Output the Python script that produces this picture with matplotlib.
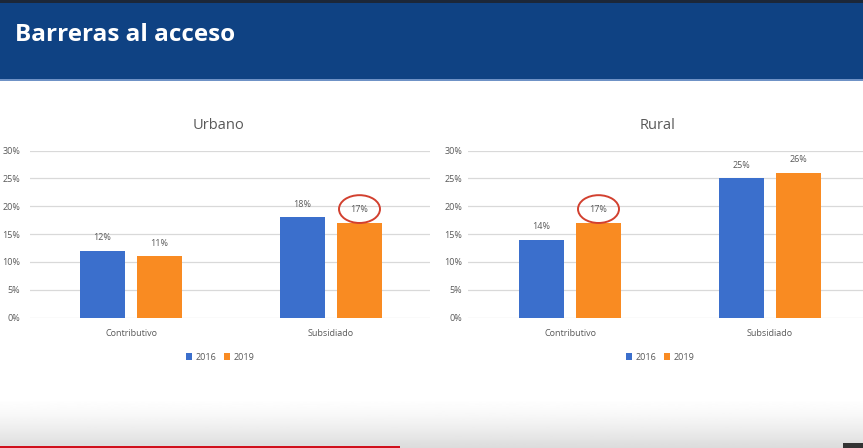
import matplotlib
matplotlib.use('Agg')
import matplotlib.pyplot as plt
import numpy as np
from matplotlib.patches import Ellipse, Rectangle
from matplotlib.ticker import FuncFormatter

plt.rcParams['font.family'] = ['Open Sans', 'DejaVu Sans']

# data
categories = ['Contributivo', 'Subsidiado']
years = ['2016', '2019']
urbano_2016 = [0.12, 0.18]
urbano_2019 = [0.11, 0.17]
rural_2016 = [0.14, 0.25]
rural_2019 = [0.17, 0.26]

BLUE = '#3B6FCC'
ORANGE = '#F98B22'
GRAY = '#595959'
GRID = '#D9D9D9'
W, H = 863, 448

fig = plt.figure(figsize=(W / 100, H / 100), dpi=100)
fig.patch.set_facecolor('white')

# background: header band + bottom fade
bg = fig.add_axes([0, 0, 1, 1], zorder=-10)
bg.set_xlim(0, W)
bg.set_ylim(H, 0)
bg.axis('off')
fade = (1.0 - 0.14 * np.linspace(0, 1, 60) ** 1.6).reshape(-1, 1)
bg.imshow(fade, cmap='gray', vmin=0, vmax=1, extent=(0, W, 448, 395), aspect='auto')
bg.add_patch(Rectangle((0, 0), W, 80, facecolor='#0F4283', edgecolor='none'))
bg.add_patch(Rectangle((0, 0), W, 3, facecolor='#1C2738', edgecolor='none'))
bg.add_patch(Rectangle((0, 79), W, 2, facecolor='#6F92C6', edgecolor='none'))
bg.add_patch(Rectangle((0, 446), 400, 2, facecolor='#D0101C', edgecolor='none'))
bg.add_patch(Rectangle((843, 443), 20, 5, facecolor='#333333', edgecolor='none'))
bg.text(15, 35, 'Barreras al acceso', color='white', fontsize=17.5,
        fontweight='bold', ha='left', va='center')

panels = [
    ('Urbano', urbano_2016, urbano_2019, 30, 430, (-0.505, 1.495), 7, 218, 1),
    ('Rural', rural_2016, rural_2019, 468, 863, (-0.51, 1.465), 4, 658, 0),
]

x = np.arange(len(categories))
bw = 0.225
off = 0.1425

for title, v16, v19, x0, x1, xlim, pad, tx, circ in panels:
    ax = fig.add_axes([x0 / W, 1 - 317.5 / H, (x1 - x0) / W, 166.8 / H])
    b1 = ax.bar(x - off, v16, bw, color=BLUE, label=years[0], zorder=3)
    b2 = ax.bar(x + off, v19, bw, color=ORANGE, label=years[1], zorder=3)
    for bars in (b1, b2):
        for r in bars:
            ax.annotate(f'{r.get_height() * 100:.0f}%',
                        (r.get_x() + r.get_width() / 2, r.get_height()),
                        xytext=(0, 9.5), textcoords='offset points',
                        ha='center', va='center', fontsize=6.5, color=GRAY)
    ax.set_xlim(*xlim)
    ax.set_ylim(0, 0.30)
    ax.set_yticks(np.arange(0, 0.301, 0.05))
    ax.yaxis.set_major_formatter(FuncFormatter(lambda v, p: f'{v * 100:.0f}%'))
    ax.set_xticks(x, categories)
    ax.tick_params(axis='y', length=0, pad=pad, labelsize=6.5, labelcolor=GRAY)
    ax.tick_params(axis='x', length=0, pad=8, labelsize=6.5, labelcolor=GRAY)
    ax.grid(axis='y', color=GRID, linewidth=0.9, zorder=0)
    for s in ax.spines.values():
        s.set_visible(False)
    ax.set_facecolor('none')

    # highlighted 2019 label
    ax.add_patch(Ellipse((x[circ] + off, v19[circ] + 0.025), 0.205, 0.05,
                         facecolor='none', edgecolor='#D2402F', linewidth=1.4,
                         zorder=5, clip_on=False))

    fig.text(tx / W, 1 - 125 / H, title, ha='center', va='center',
             fontsize=10.5, color=GRAY)
    ax.legend(loc='center', bbox_to_anchor=((tx + 2) / W, 1 - 357 / H),
              bbox_transform=fig.transFigure, ncol=2, frameon=False,
              fontsize=6.5, labelcolor=GRAY, handlelength=0.7, handleheight=0.7,
              handletextpad=0.4, columnspacing=0.8)

fig.savefig('out.png', dpi=100, facecolor='white')
